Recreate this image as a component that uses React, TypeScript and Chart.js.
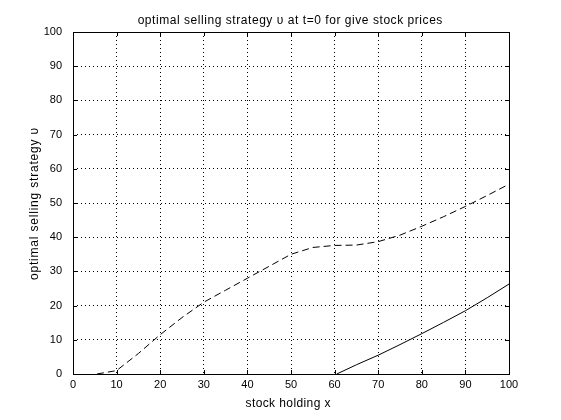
import React, { useEffect, useRef } from "react";
import { Chart, registerables } from "chart.js";

Chart.register(...registerables);

const chartTitle = "optimal selling strategy υ at t=0 for give stock prices";
const xAxisTitle = "stock holding x";
const yAxisTitle = "optimal selling strategy υ";

const dashedX = [5.5, 10, 15, 20, 25, 30, 35, 40, 45, 50, 55, 60, 65, 70, 75, 80, 85, 90, 95, 100];
const dashedY = [0, 1, 6, 11.5, 16.5, 21, 24.5, 28, 31.5, 35, 37, 37.6, 37.7, 38.7, 40.6, 43.2, 46, 49, 52.2, 55.5];

const solidX = [60.5, 65, 70, 75, 80, 85, 90, 95, 100];
const solidY = [0, 2.7, 5.5, 8.6, 11.8, 15.1, 18.5, 22.3, 26.3];

const FONT = "'Liberation Sans', Arial, Helvetica, sans-serif";

function drawSpaced(ctx: any, text: string, x: number, y: number, spacing: number) {
  ctx.letterSpacing = `${spacing}px`;
  ctx.textAlign = "center";
  ctx.textBaseline = "alphabetic";
  ctx.fillText(text, x + spacing / 2, y);
  ctx.letterSpacing = "0px";
}

const boxPlugin = {
  id: "matlabBox",
  afterDraw(chart: any) {
    const { ctx, chartArea } = chart;
    const { left, right, top, bottom } = chartArea;
    ctx.save();
    ctx.strokeStyle = "#000";
    ctx.lineWidth = 1;
    ctx.setLineDash([]);
    ctx.strokeRect(Math.round(left) + 0.5, Math.round(top) + 0.5, Math.round(right - left), Math.round(bottom - top));
    const xs = chart.scales.x;
    const ys = chart.scales.y;
    const tl = 4;
    ctx.beginPath();
    for (let v = 10; v < 100; v += 10) {
      const px = Math.round(xs.getPixelForValue(v)) + 0.5;
      ctx.moveTo(px, bottom);
      ctx.lineTo(px, bottom - tl);
      ctx.moveTo(px, top);
      ctx.lineTo(px, top + tl);
      const py = Math.round(ys.getPixelForValue(v)) + 0.5;
      ctx.moveTo(left, py);
      ctx.lineTo(left + tl, py);
      ctx.moveTo(right, py);
      ctx.lineTo(right - tl, py);
    }
    ctx.stroke();
    ctx.fillStyle = "#000";
    ctx.font = `12px ${FONT}`;
    const cx = (left + right) / 2;
    drawSpaced(ctx, chartTitle, cx - 1, 24, 0.55);
    drawSpaced(ctx, xAxisTitle, cx - 3, 407, 0.4);
    ctx.save();
    ctx.translate(38, (top + bottom) / 2 + 1);
    ctx.rotate(-Math.PI / 2);
    drawSpaced(ctx, yAxisTitle, 0, 0, 0.8);
    ctx.restore();
    ctx.restore();
  },
};

export default function App() {
  const ref = useRef<HTMLCanvasElement | null>(null);
  useEffect(() => {
    if (!ref.current) return;
    const chart = new Chart(ref.current, {
      type: "line",
      data: {
        datasets: [
          {
            data: dashedX.map((x, i) => ({ x, y: dashedY[i] })),
            borderColor: "#000",
            borderWidth: 1,
            borderDash: [7, 4],
            pointRadius: 0,
            tension: 0,
            fill: false,
          },
          {
            data: solidX.map((x, i) => ({ x, y: solidY[i] })),
            borderColor: "#000",
            borderWidth: 1,
            pointRadius: 0,
            tension: 0,
            fill: false,
          },
        ],
      },
      options: {
        animation: false,
        responsive: false,
        maintainAspectRatio: false,
        layout: { padding: { top: 32, right: 52, left: 0, bottom: 0 } },
        plugins: {
          legend: { display: false },
          title: { display: false },
          tooltip: { enabled: false },
        },
        scales: {
          x: {
            type: "linear",
            min: 0,
            max: 100,
            afterFit: (s: any) => {
              s.height = 46;
            },
            ticks: { stepSize: 10, color: "#000", font: { family: FONT, size: 11 }, padding: 4, maxRotation: 0 },
            grid: { color: "#000", drawTicks: false, lineWidth: 1 },
            border: { display: false, dash: [1, 3] },
            title: { display: false },
          },
          y: {
            type: "linear",
            min: 0,
            max: 100,
            afterFit: (s: any) => {
              s.width = 73;
            },
            ticks: { stepSize: 10, color: "#000", font: { family: FONT, size: 11 }, padding: 11 },
            grid: { color: "#000", drawTicks: false, lineWidth: 1 },
            border: { display: false, dash: [1, 3] },
            title: { display: false },
          },
        },
      },
      plugins: [boxPlugin],
    } as any);
    return () => chart.destroy();
  }, []);
  return (
    <div style={{ position: "absolute", left: 0, top: 0, width: 561, height: 420, background: "#fff" }}>
      <canvas ref={ref} width={561} height={420} style={{ display: "block", width: 561, height: 420 }} />
    </div>
  );
}
